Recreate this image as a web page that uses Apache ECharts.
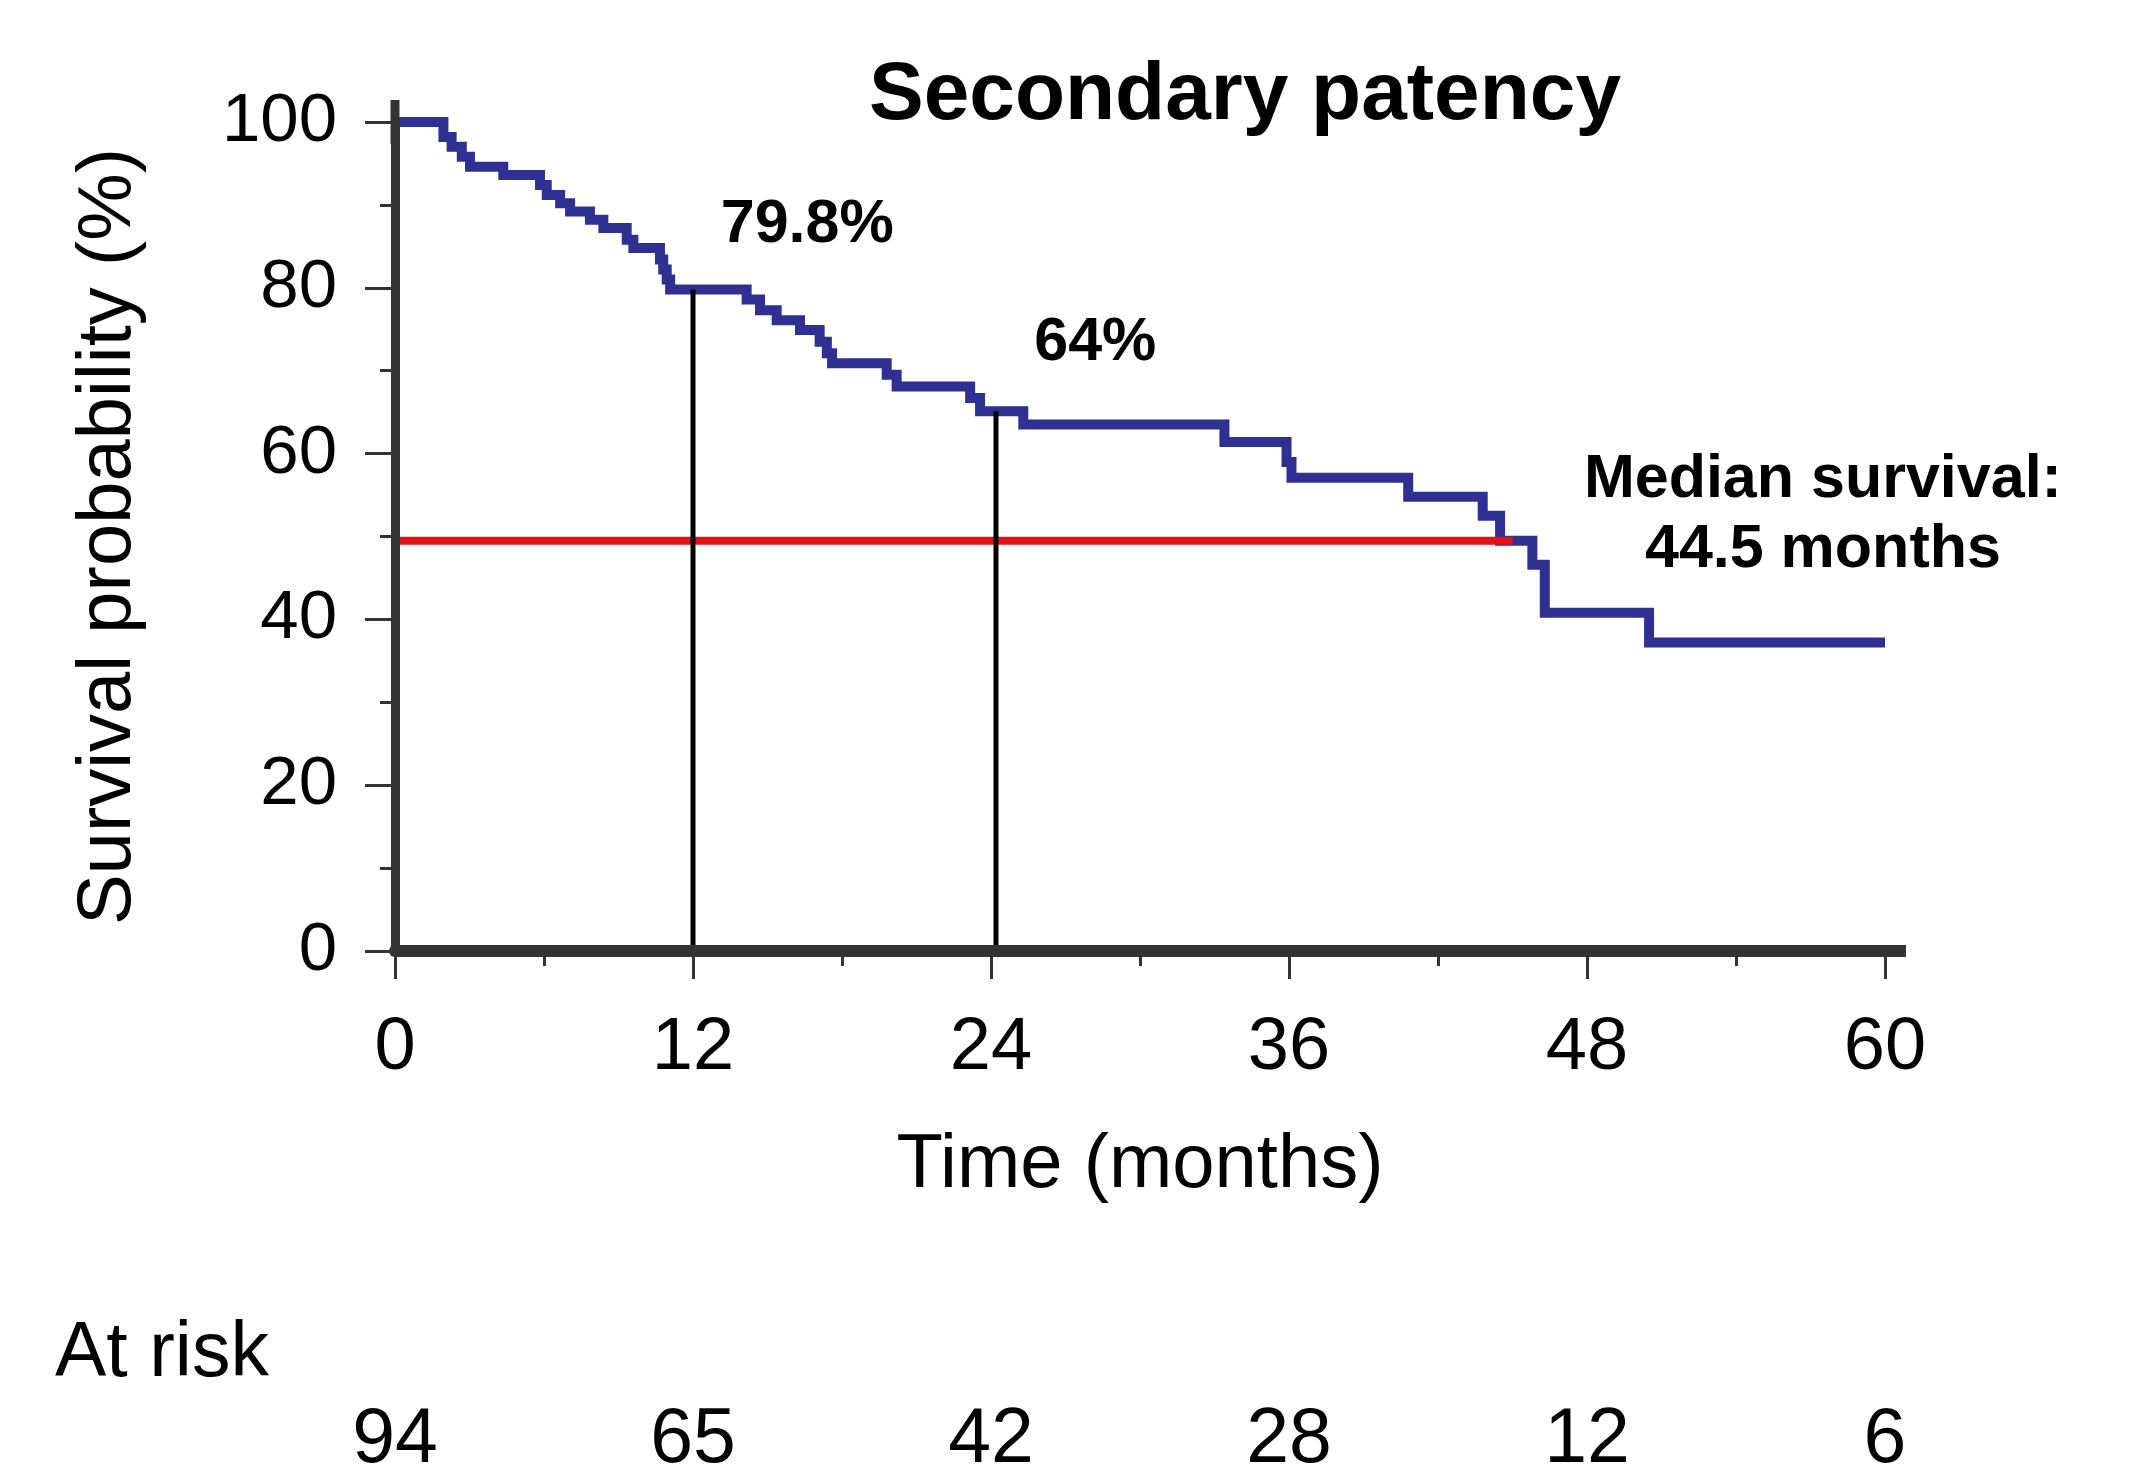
<!DOCTYPE html>
<html>
<head>
<meta charset="utf-8">
<title>Secondary patency</title>
<script src="https://cdn.jsdelivr.net/npm/echarts@6/dist/echarts.min.js"></script>
<style>
  html, body { margin: 0; padding: 0; background: #fff; }
  #chart { width: 2145px; height: 1469px; }
</style>
</head>
<body>
<div id="chart"></div>
<script>
// Kaplan-Meier steps (months, survival %)
var times = [0, 1.95, 2.28, 2.69, 3.02, 4.36, 5.84, 6.11, 6.65, 7.05, 7.85, 8.39, 9.33, 9.6,
    10.67, 10.8, 10.94, 11.08, 14.16, 14.7, 15.37, 16.31, 17.1, 17.39, 17.6, 19.8, 20.2,
    23.16, 23.56, 25.3, 33.4, 35.9, 36.1, 40.8, 43.8, 44.5, 45.8, 46.3, 50.5, 60];
var survival = [100, 98.2, 97.0, 95.8, 94.6, 93.6, 92.4, 91.2, 90.2, 89.2, 88.2, 87.2, 85.8, 84.8,
    83.4, 82.2, 81.0, 79.8, 78.6, 77.3, 76.1, 74.9, 73.5, 72.1, 70.9, 69.5, 68.1,
    66.7, 65.1, 63.5, 61.4, 59.0, 57.1, 54.8, 52.5, 49.5, 46.6, 40.8, 37.2, 37.2];

var xTicks = [0, 12, 24, 36, 48, 60];
var yTicks = [0, 20, 40, 60, 80, 100];
var atRisk = [94, 65, 42, 28, 12, 6];

// landmark vertical lines (months)
var landmarkTimes = [12, 24.2];
// median line: level and where it stops
var medianLevel = 49.5;
var medianEnd = 45;

// text annotations: label, x (months), y (%)
var noteTexts = ['79.8%', '64%', 'Median survival:\n44.5 months'];
var noteX = [16.6, 28.2, 57.5];
var noteY = [87.5, 73.3, 52.6];

var FONT = '"Liberation Sans", Arial, sans-serif';

function survivalAt(t) {
    var v = survival[0];
    for (var i = 0; i < times.length; i++) {
        if (times[i] <= t) v = survival[i];
    }
    return v;
}

var kmData = times.map(function (t, i) { return [t, survival[i]]; });

var chart = echarts.init(document.getElementById('chart'));

var landmarkSeries = landmarkTimes.map(function (t) {
    return {
        type: 'line',
        xAxisIndex: 0,
        yAxisIndex: 0,
        data: [[t, 0], [t, survivalAt(t)]],
        symbol: 'none',
        silent: true,
        z: 4,
        lineStyle: { color: '#000', width: 5 }
    };
});

var option = {
    animation: false,
    backgroundColor: '#fff',
    title: {
        text: 'Secondary patency',
        left: 1240,
        top: 50,
        textAlign: 'center',
        textStyle: { fontFamily: FONT, fontSize: 82, fontWeight: 'bold', color: '#000' }
    },
    graphic: [{
        type: 'text',
        left: 55,
        top: 1316,
        style: { text: 'At risk', font: '77px ' + FONT, fill: '#000' }
    }],
    grid: [
        { left: 395, right: 260, top: 122, bottom: 518, outerBoundsMode: 'none' },
        { left: 395, right: 260, top: 1380, height: 20, outerBoundsMode: 'none' }
    ],
    xAxis: [{
        type: 'value',
        gridIndex: 0,
        min: 0,
        max: 60,
        interval: 12,
        z: 5,
        name: 'Time (months)',
        nameLocation: 'middle',
        nameGap: 177,
        nameTextStyle: { fontFamily: FONT, fontSize: 76, color: '#000' },
        axisLine: {
            show: true,
            symbol: ['none', 'rect'],
            symbolSize: [12, 42],
            lineStyle: { color: '#333', width: 12 }
        },
        axisTick: { show: true, length: 28, lineStyle: { color: '#333', width: 3 } },
        minorTick: { show: true, splitNumber: 2, length: 15, lineStyle: { color: '#333', width: 3 } },
        splitLine: { show: false },
        axisLabel: { fontFamily: FONT, fontSize: 74, color: '#000', margin: 61 }
    }, {
        type: 'value',
        gridIndex: 1,
        min: 0,
        max: 60,
        interval: 12,
        axisLine: { show: false },
        axisTick: { show: false },
        splitLine: { show: false },
        axisLabel: {
            fontFamily: FONT,
            fontSize: 77,
            color: '#000',
            margin: 41,
            verticalAlign: 'middle',
            formatter: function (v) {
                var i = xTicks.indexOf(v);
                return i >= 0 ? String(atRisk[i]) : '';
            }
        }
    }],
    yAxis: [{
        type: 'value',
        gridIndex: 0,
        min: 0,
        max: 100,
        interval: 20,
        z: 5,
        name: 'Survival probability (%)',
        nameLocation: 'middle',
        nameGap: 248,
        nameTextStyle: { fontFamily: FONT, fontSize: 76, color: '#000' },
        axisLine: {
            show: true,
            symbol: ['none', 'rect'],
            symbolSize: [9, 44],
            lineStyle: { color: '#333', width: 9 }
        },
        axisTick: { show: true, length: 30, lineStyle: { color: '#333', width: 3 } },
        minorTick: { show: true, splitNumber: 2, length: 15, lineStyle: { color: '#333', width: 3 } },
        splitLine: { show: false },
        axisLabel: { fontFamily: FONT, fontSize: 69, color: '#000', margin: 58 }
    }, {
        type: 'value',
        gridIndex: 1,
        min: 0,
        max: 1,
        show: false
    }],
    series: [{
        name: 'Secondary patency',
        type: 'line',
        xAxisIndex: 0,
        yAxisIndex: 0,
        step: 'end',
        data: kmData,
        symbol: 'none',
        z: 2,
        lineStyle: { color: '#2E3192', width: 10, join: 'miter', cap: 'butt' }
    }, {
        type: 'line',
        xAxisIndex: 0,
        yAxisIndex: 0,
        data: [[0, medianLevel], [medianEnd, medianLevel]],
        symbol: 'none',
        silent: true,
        z: 3,
        lineStyle: { color: '#E3121B', width: 8 }
    }].concat(landmarkSeries).concat([{
        type: 'scatter',
        xAxisIndex: 0,
        yAxisIndex: 0,
        clip: false,
        silent: true,
        symbolSize: 1,
        itemStyle: { color: 'rgba(255,255,255,0)', opacity: 1 },
        z: 6,
        data: noteTexts.map(function (txt, i) { return { value: [noteX[i], noteY[i]], name: txt }; }),
        label: {
            show: true,
            position: 'inside',
            formatter: function (p) { return p.name; },
            fontFamily: FONT,
            fontSize: 61,
            fontWeight: 'bold',
            color: '#000',
            opacity: 1,
            textBorderWidth: 0,
            lineHeight: 70,
            align: 'center',
            verticalAlign: 'middle'
        }
    }])
};

option && chart.setOption(option);

window.addEventListener('resize', function () {
    chart.resize();
});
</script>
</body>
</html>
